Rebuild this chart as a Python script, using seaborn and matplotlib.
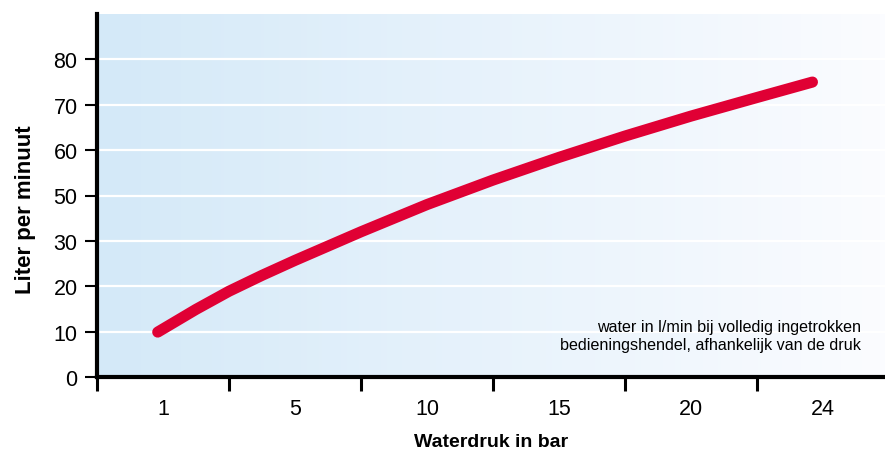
import numpy as np
import pandas as pd
import matplotlib
matplotlib.use("Agg")
import matplotlib.pyplot as plt
from matplotlib.colors import LinearSegmentedColormap
from matplotlib.ticker import FixedLocator, NullFormatter
import seaborn as sns

# categorie op de x-as (waterdruk in bar)
druk = ["1", "5", "10", "15", "20", "24"]
# labels op de y-as zoals in het origineel (40 ontbreekt)
y_labels = ["0", "10", "20", "30", "50", "60", "70", "80"]
curve_pos = [-0.04, 0.25, 0.5, 0.75, 1.0, 1.5, 2.0, 2.5, 3.0, 3.5, 4.0, 4.5, 4.92]
curve_flow = [9.9, 14.9, 18.9, 22.4, 25.7, 32.0, 38.0, 43.4, 48.4, 53.1, 57.5, 61.6, 65.0]

sns.set_theme(style="white")
plt.rcParams["font.family"] = ["Liberation Sans", "DejaVu Sans"]

fig = plt.figure(figsize=(8.85, 4.52), dpi=100)
ax = fig.add_axes([97 / 885, 74 / 452, 788 / 885, 363 / 452])

x_min, x_max = -0.5, -0.5 + 788 / 132
y_min, y_max = 0, 80

# achtergrond: verloop van lichtblauw naar wit
cmap = LinearSegmentedColormap.from_list("bg", ["#d4e9f8", "#fbfcff"])
grad = np.linspace(0, 1, 256).reshape(1, -1)
ax.imshow(grad, cmap=cmap, aspect="auto", extent=[x_min, x_max, y_min, y_max],
          zorder=0, interpolation="bilinear")

# witte hulplijnen
y_pos = 10 * np.arange(len(y_labels))
for yp in y_pos[1:]:
    ax.axhline(yp, color="white", lw=1.6, zorder=1)

df = pd.DataFrame({"pos": curve_pos, "flow": curve_flow})
sns.lineplot(data=df, x="pos", y="flow", ax=ax, color="#e00034", lw=8,
             solid_capstyle="round", solid_joinstyle="round", zorder=3, sort=False)

ax.set_xlim(x_min, x_max)
ax.set_ylim(y_min, y_max)

# x-as: labels in het midden, streepjes op de grenzen
ax.xaxis.set_major_locator(FixedLocator(np.arange(len(druk))))
ax.set_xticklabels(druk)
ax.xaxis.set_minor_locator(FixedLocator(np.arange(len(druk)) - 0.5))
ax.xaxis.set_minor_formatter(NullFormatter())
ax.tick_params(axis="x", which="major", length=0, pad=15, labelsize=15.5,
               labelcolor="black")
ax.tick_params(axis="x", which="minor", length=10, width=2.2, color="black",
               bottom=True, direction="out")

ax.set_yticks(y_pos)
ax.set_yticklabels(y_labels)
ax.tick_params(axis="y", which="major", length=9, width=1.5, color="black",
               left=True, direction="out", pad=5, labelsize=15.5,
               labelcolor="black")

for s in ["top", "right"]:
    ax.spines[s].set_visible(False)
for s in ["left", "bottom"]:
    ax.spines[s].set_linewidth(3)
    ax.spines[s].set_color("black")
    ax.spines[s].set_zorder(4)

ax.set_xlabel("Waterdruk in bar", fontsize=14, fontweight="bold",
              labelpad=10, color="black")
ax.set_ylabel("Liter per minuut", fontsize=16, fontweight="bold", color="black")
ax.yaxis.set_label_coords(-0.078, 0.463)
ax.grid(False)

ax.text(0.97, 0.114, "water in l/min bij volledig ingetrokken\n"
        "bedieningshendel, afhankelijk van de druk",
        transform=ax.transAxes, ha="right", va="center", fontsize=11.6,
        linespacing=1.25, color="black")

fig.savefig("out.png", dpi=100)
